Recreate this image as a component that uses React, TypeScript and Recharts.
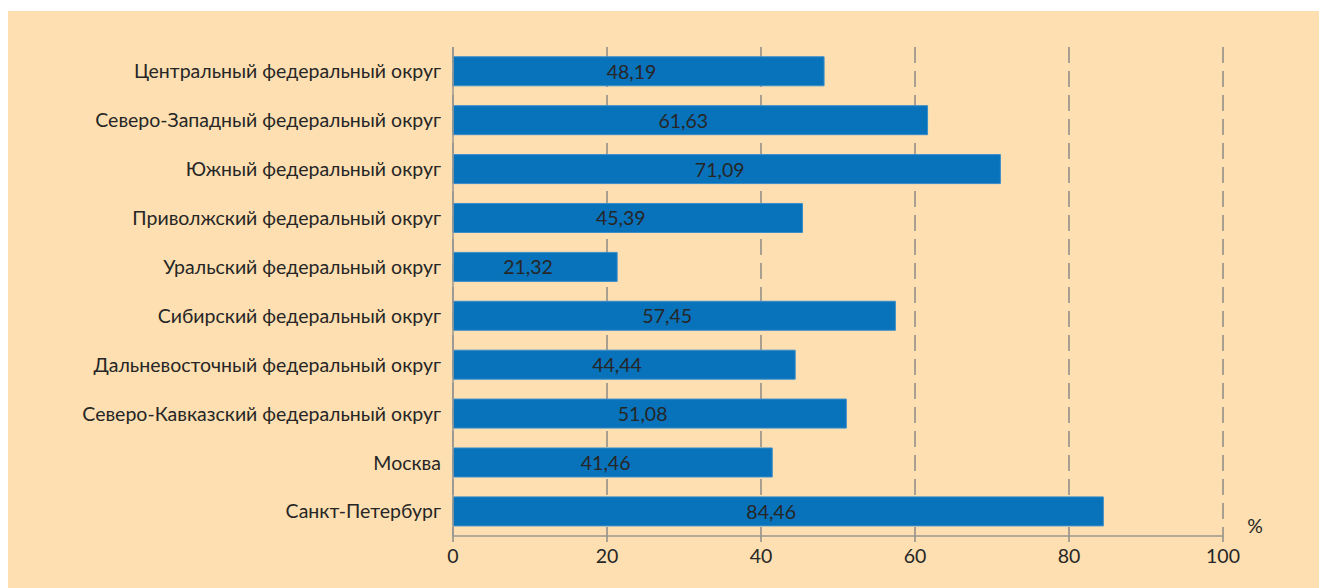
import React from "react";
import { BarChart, Bar, XAxis, YAxis, CartesianGrid, LabelList, Label } from "recharts";

const categories = [
  "Центральный федеральный округ",
  "Северо-Западный федеральный округ",
  "Южный федеральный округ",
  "Приволжский федеральный округ",
  "Уральский федеральный округ",
  "Сибирский федеральный округ",
  "Дальневосточный федеральный округ",
  "Северо-Кавказский федеральный округ",
  "Москва",
  "Санкт-Петербург",
];
const values = [48.19, 61.63, 71.09, 45.39, 21.32, 57.45, 44.44, 51.08, 41.46, 84.46];
const xTicks = [0, 20, 40, 60, 80, 100];
const unitLabel = "%";

const data = categories.map((name, i) => ({ name, value: values[i] }));

const FONT = "Lato, 'Open Sans', sans-serif";
const TEXT = "#262626";
const fmt = (v: number) => v.toFixed(2).replace(".", ",");

const BarValueLabel = (props: any) => {
  const { x, y, width, height, value } = props;
  return (
    <text
      x={Number(x) + Number(width) / 2 - 7}
      y={Number(y) + Number(height) / 2}
      textAnchor="middle"
      dominantBaseline="central"
      fill={TEXT}
      fontSize={19.5}
      fontFamily={FONT}
    >
      {fmt(Number(value))}
    </text>
  );
};

const PercentLabel = (props: any) => {
  const vb = props.viewBox || {};
  return (
    <text
      x={vb.x + vb.width + 32}
      y={vb.y - 3}
      textAnchor="middle"
      fill={TEXT}
      fontSize={19.5}
      fontFamily={FONT}
    >
      {unitLabel}
    </text>
  );
};

export default function App() {
  return (
    <div style={{ marginLeft: -1, marginTop: 3, width: 1320, height: 577, background: "#FDDFB1" }}>
      <BarChart
        width={1320}
        height={577}
        data={data}
        layout="vertical"
        margin={{ top: 36, right: 104, bottom: 22, left: 0 }}
        barCategoryGap="20%"
      >
        <CartesianGrid horizontal={false} stroke="#8F8C88" strokeWidth={1.5} strokeDasharray="16 8" />
        <XAxis
          type="number"
          domain={[0, 100]}
          ticks={xTicks}
          interval={0}
          height={30}
          axisLine={{ stroke: "#9A9792", strokeWidth: 1.5 }}
          tickLine={{ stroke: "#8F8C88", strokeWidth: 1.5 }}
          tickSize={6}
          tickMargin={7}
          tick={{ fill: TEXT, fontSize: 19.5, fontFamily: FONT }}
        >
          <Label content={<PercentLabel />} />
        </XAxis>
        <YAxis
          type="category"
          dataKey="name"
          width={446}
          axisLine={{ stroke: "#9A9792", strokeWidth: 1.5 }}
          tickLine={false}
          tickMargin={6}
          interval={0}
          tick={{ fill: TEXT, fontSize: 19.5, fontFamily: FONT }}
        />
        <Bar dataKey="value" fill="#0872BB" stroke="#3A8DCB" strokeWidth={1} isAnimationActive={false}>
          <LabelList dataKey="value" content={<BarValueLabel />} />
        </Bar>
      </BarChart>
    </div>
  );
}
